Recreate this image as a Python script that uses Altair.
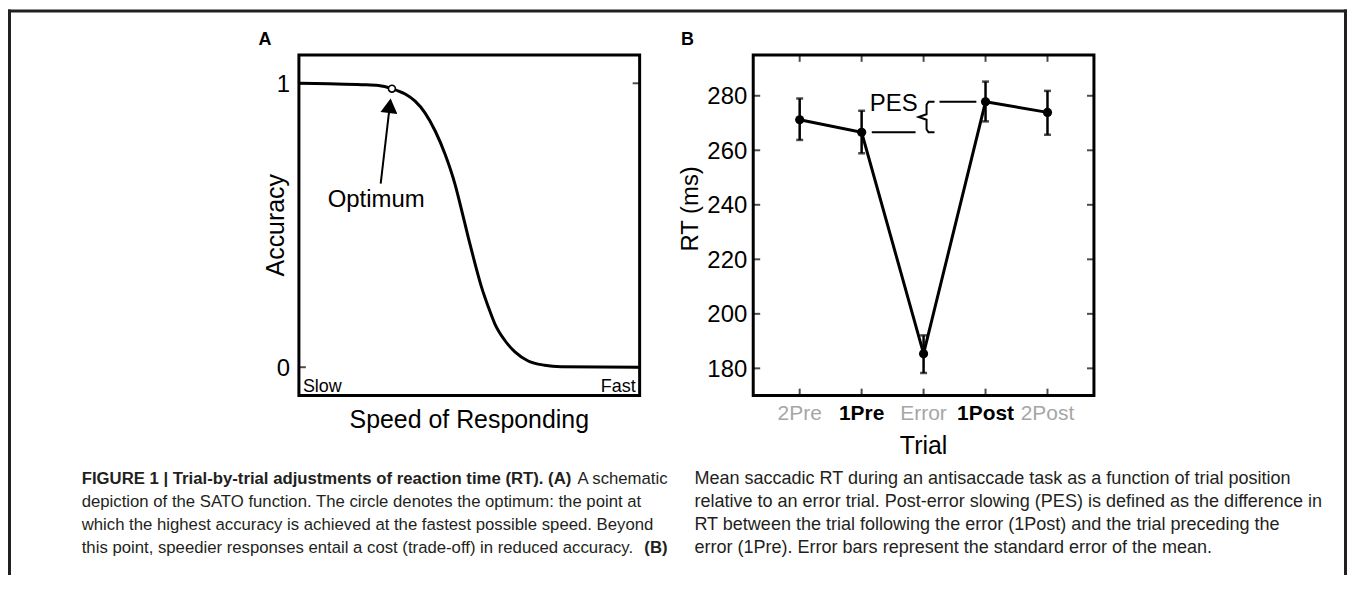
import altair as alt
import pandas as pd

# ---------------- data: panel A (schematic SATO curve) ----------------
speed = [0.000, 0.088, 0.185, 0.234, 0.273, 0.312, 0.341, 0.370, 0.400, 0.429, 0.458, 0.478,
         0.497, 0.517, 0.536, 0.556, 0.575, 0.604, 0.634, 0.673, 0.721, 0.770, 1.000]
accuracy = [1.000, 0.998, 0.995, 0.992, 0.981, 0.962, 0.937, 0.896, 0.832, 0.750, 0.645, 0.551,
            0.457, 0.364, 0.282, 0.212, 0.153, 0.095, 0.054, 0.022, 0.007, 0.002, 0.000]
optimum_speed = [0.273]
optimum_acc = [0.981]
acc_ticks = [0, 1]
acc_tick_labels = ["0", "1"]

# ---------------- data: panel B ----------------
trials = ["2Pre", "1Pre", "Error", "1Post", "2Post"]
trial_pos = [1, 2, 3, 4, 5]
trial_bold = [False, True, False, True, False]
rt_mean = [271.2, 266.6, 185.4, 277.8, 273.9]
rt_lo = [263.8, 258.9, 178.3, 270.6, 265.7]
rt_hi = [279.0, 274.5, 192.1, 285.2, 281.8]
rt_ticks = [180, 200, 220, 240, 260, 280]

# ---------------- caption text ----------------
cap_left_bold_1 = "FIGURE 1 | Trial-by-trial adjustments of reaction time (RT). (A)"
cap_left_tail_1 = "A schematic"
cap_left_lines = [
    "depiction of the SATO function. The circle denotes the optimum: the point at",
    "which the highest accuracy is achieved at the fastest possible speed. Beyond",
    "this point, speedier responses entail a cost (trade-off) in reduced accuracy.",
]
cap_left_tail_4 = "(B)"
cap_right_lines = [
    "Mean saccadic RT during an antisaccade task as a function of trial position",
    "relative to an error trial. Post-error slowing (PES) is defined as the difference in",
    "RT between the trial following the error (1Post) and the trial preceding the",
    "error (1Pre). Error bars represent the standard error of the mean.",
]

# ---------------- styling / layout ----------------
INK = "black"
FRAME = "#231f20"
GRAY = "#a6a6a6"
FONT = "Liberation Sans"
CAP_FONT = "Liberation Sans"
CAP_SIZE_L = 16.8
CAP_SIZE_R = 18.1
W, H = 1344, 568

XA_DOM, YA_DOM = [0, 1], [-0.1, 1.1]
XB_DOM, YB_DOM = [0.25, 5.75], [170, 295]
XA = alt.Scale(domain=XA_DOM, range=[292, 634], nice=False, zero=False)
YA = alt.Scale(domain=YA_DOM, range=[388, 46], nice=False, zero=False)
XB = alt.Scale(domain=XB_DOM, range=[748, 1090], nice=False, zero=False)
YB = alt.Scale(domain=YB_DOM, range=[388, 46], nice=False, zero=False)
CAP_Y = alt.Scale(domain=[1, 4], range=[472, 541], nice=False, zero=False)


def enc(xs, ys, xf="x", yf="y"):
    return dict(x=alt.X(f"{xf}:Q", scale=xs, axis=None),
                y=alt.Y(f"{yf}:Q", scale=ys, axis=None))


layers = []

# ================= Panel A =================
dA = pd.DataFrame({"x": speed, "y": accuracy})
layers.append(alt.Chart(dA).mark_line(color=INK, strokeWidth=3, interpolate="monotone")
              .encode(**enc(XA, YA)))

fA = pd.DataFrame({"x": [XA_DOM[0]], "x2": [XA_DOM[1]], "y": [YA_DOM[0]], "y2": [YA_DOM[1]]})
layers.append(alt.Chart(fA).mark_rect(fill="transparent", stroke=INK, strokeWidth=3)
              .encode(**enc(XA, YA), x2="x2:Q", y2="y2:Q"))

tA = pd.DataFrame({"y": acc_ticks, "xl": [XA_DOM[0]] * 2, "xr": [XA_DOM[1]] * 2})
layers.append(alt.Chart(tA).mark_tick(orient="horizontal", size=7, thickness=2, color=INK, xOffset=3.5)
              .encode(**enc(XA, YA, xf="xl")))
layers.append(alt.Chart(tA).mark_tick(orient="horizontal", size=7, thickness=2, color=INK, xOffset=-3.5)
              .encode(**enc(XA, YA, xf="xr")))

labA = pd.DataFrame({"x": [XA_DOM[0]] * 2, "y": acc_ticks, "t": acc_tick_labels})
layers.append(alt.Chart(labA).mark_text(font=FONT, fontSize=24, align="right", baseline="alphabetic",
                                        dx=-9, dy=8.5, color=INK)
              .encode(**enc(XA, YA), text="t:N"))

# arrow + "Optimum"
arrow_tail = (0.240, 0.647)
arrow_head = (0.2667, 0.921)
dArrow = pd.DataFrame({"x": [arrow_tail[0], arrow_head[0]], "y": [arrow_tail[1], arrow_head[1]]})
layers.append(alt.Chart(dArrow).mark_line(color=INK, strokeWidth=2).encode(**enc(XA, YA)))
layers.append(alt.Chart(pd.DataFrame({"x": [arrow_head[0]], "y": [arrow_head[1]]}))
              .mark_point(shape="triangle-up", filled=True, color=INK, size=290, angle=6.7, opacity=1)
              .encode(**enc(XA, YA)))

dOpt = pd.DataFrame({"x": optimum_speed, "y": optimum_acc})
layers.append(alt.Chart(dOpt).mark_point(shape="circle", filled=True, fill="white", stroke=INK,
                                         strokeWidth=1.6, size=48, opacity=1)
              .encode(**enc(XA, YA)))

txtA = pd.DataFrame({"x": [0.2266], "y": [0.563], "t": ["Optimum"]})
layers.append(alt.Chart(txtA).mark_text(font=FONT, fontSize=24, align="center", baseline="alphabetic", color=INK)
              .encode(**enc(XA, YA), text="t:N"))

# Slow / Fast
sf = pd.DataFrame({"x": [XA_DOM[0]], "y": [YA_DOM[0]], "t": ["Slow"]})
layers.append(alt.Chart(sf).mark_text(font=FONT, fontSize=18, align="left", baseline="alphabetic",
                                      dx=4, dy=-4, color=INK).encode(**enc(XA, YA), text="t:N"))
sf2 = pd.DataFrame({"x": [XA_DOM[1]], "y": [YA_DOM[0]], "t": ["Fast"]})
layers.append(alt.Chart(sf2).mark_text(font=FONT, fontSize=18, align="right", baseline="alphabetic",
                                       dx=-4, dy=-4, color=INK).encode(**enc(XA, YA), text="t:N"))

# axis titles A
layers.append(alt.Chart(pd.DataFrame({"x": [0.5], "y": [YA_DOM[0]], "t": ["Speed of Responding"]}))
              .mark_text(font=FONT, fontSize=25, align="center", baseline="alphabetic", dy=33, color=INK)
              .encode(**enc(XA, YA), text="t:N"))
layers.append(alt.Chart(pd.DataFrame({"x": [XA_DOM[0]], "y": [0.5], "t": ["Accuracy"]}))
              .mark_text(font=FONT, fontSize=25, align="center", baseline="middle", angle=270, dy=-23, color=INK)
              .encode(**enc(XA, YA), text="t:N"))
# panel letter A
layers.append(alt.Chart(pd.DataFrame({"x": [XA_DOM[0]], "y": [YA_DOM[1]], "t": ["A"]}))
              .mark_text(font=FONT, fontSize=18, fontWeight="bold", align="center", baseline="alphabetic",
                         dx=-34, dy=-10, color=INK)
              .encode(**enc(XA, YA), text="t:N"))

# ================= Panel B =================
dB = pd.DataFrame({"x": trial_pos, "y": rt_mean, "lo": rt_lo, "hi": rt_hi, "t": trials, "b": trial_bold})

# PES annotation (behind data)
pes_left = (2.164, 2.871)
pes_right = (3.257, 3.852)
layers.append(alt.Chart(pd.DataFrame({"x": [pes_left[0]], "x2": [pes_left[1]], "y": [rt_mean[1]]}))
              .mark_rule(color=INK, strokeWidth=2).encode(**enc(XB, YB), x2="x2:Q"))
layers.append(alt.Chart(pd.DataFrame({"x": [pes_right[0]], "x2": [pes_right[1]], "y": [rt_mean[3]]}))
              .mark_rule(color=INK, strokeWidth=2).encode(**enc(XB, YB), x2="x2:Q"))
top_, bot_ = rt_mean[3], rt_mean[1]
mid_ = (top_ + bot_) / 2
brace_x = [3.177, 3.080, 3.048, 3.048, 2.920, 3.048, 3.048, 3.080, 3.177]
brace_y = [top_, top_, top_ - 1.1, mid_ + 1.0, mid_, mid_ - 1.0, bot_ + 1.1, bot_, bot_]
layers.append(alt.Chart(pd.DataFrame({"x": brace_x, "y": brace_y, "o": list(range(len(brace_x)))}))
              .mark_line(color=INK, strokeWidth=2).encode(**enc(XB, YB), order="o:Q"))
layers.append(alt.Chart(pd.DataFrame({"x": [2.518], "y": [274.5], "t": ["PES"]}))
              .mark_text(font=FONT, fontSize=24, align="center", baseline="alphabetic", color=INK)
              .encode(**enc(XB, YB), text="t:N"))

# error bars
layers.append(alt.Chart(dB).mark_rule(color=INK, strokeWidth=2.5)
              .encode(**enc(XB, YB, yf="lo"), y2="hi:Q"))
layers.append(alt.Chart(dB).mark_tick(orient="horizontal", size=7, thickness=2.5, color=INK)
              .encode(**enc(XB, YB, yf="lo")))
layers.append(alt.Chart(dB).mark_tick(orient="horizontal", size=7, thickness=2.5, color=INK)
              .encode(**enc(XB, YB, yf="hi")))
# line + points
layers.append(alt.Chart(dB).mark_line(color=INK, strokeWidth=3).encode(**enc(XB, YB)))
layers.append(alt.Chart(dB).mark_circle(color=INK, size=85, opacity=1).encode(**enc(XB, YB)))

# frame
fB = pd.DataFrame({"x": [XB_DOM[0]], "x2": [XB_DOM[1]], "y": [YB_DOM[0]], "y2": [YB_DOM[1]]})
layers.append(alt.Chart(fB).mark_rect(fill="transparent", stroke=INK, strokeWidth=3)
              .encode(**enc(XB, YB), x2="x2:Q", y2="y2:Q"))

# inward ticks
tBx = pd.DataFrame({"x": trial_pos, "yb": [YB_DOM[0]] * 5, "yt": [YB_DOM[1]] * 5})
layers.append(alt.Chart(tBx).mark_tick(orient="vertical", size=7, thickness=2, color=INK, yOffset=-3.5)
              .encode(**enc(XB, YB, yf="yb")))
layers.append(alt.Chart(tBx).mark_tick(orient="vertical", size=7, thickness=2, color=INK, yOffset=3.5)
              .encode(**enc(XB, YB, yf="yt")))
tBy = pd.DataFrame({"y": rt_ticks, "xl": [XB_DOM[0]] * 6, "xr": [XB_DOM[1]] * 6,
                    "t": [str(v) for v in rt_ticks]})
layers.append(alt.Chart(tBy).mark_tick(orient="horizontal", size=7, thickness=2, color=INK, xOffset=3.5)
              .encode(**enc(XB, YB, xf="xl")))
layers.append(alt.Chart(tBy).mark_tick(orient="horizontal", size=7, thickness=2, color=INK, xOffset=-3.5)
              .encode(**enc(XB, YB, xf="xr")))

# tick labels
layers.append(alt.Chart(tBy).mark_text(font=FONT, fontSize=24, align="right", baseline="alphabetic",
                                       dx=-6, dy=8.5, color=INK)
              .encode(**enc(XB, YB, xf="xl"), text="t:N"))
dLab = pd.DataFrame({"x": trial_pos, "y": [YB_DOM[0]] * 5, "t": trials, "b": trial_bold})
layers.append(alt.Chart(dLab).transform_filter("!datum.b")
              .mark_text(font=FONT, fontSize=21, align="center", baseline="alphabetic", dy=24, color=GRAY)
              .encode(**enc(XB, YB), text="t:N"))
layers.append(alt.Chart(dLab).transform_filter("datum.b")
              .mark_text(font=FONT, fontSize=21, fontWeight="bold", align="center", baseline="alphabetic",
                         dy=24, color=INK)
              .encode(**enc(XB, YB), text="t:N"))

# axis titles B
layers.append(alt.Chart(pd.DataFrame({"x": [3], "y": [YB_DOM[0]], "t": ["Trial"]}))
              .mark_text(font=FONT, fontSize=25, align="center", baseline="alphabetic", dy=59, color=INK)
              .encode(**enc(XB, YB), text="t:N"))
layers.append(alt.Chart(pd.DataFrame({"x": [XB_DOM[0]], "y": [238.5], "t": ["RT (ms)"]}))
              .mark_text(font=FONT, fontSize=24, align="center", baseline="middle", angle=270, dy=-62, color=INK)
              .encode(**enc(XB, YB), text="t:N"))
layers.append(alt.Chart(pd.DataFrame({"x": [XB_DOM[0]], "y": [YB_DOM[1]], "t": ["B"]}))
              .mark_text(font=FONT, fontSize=18, fontWeight="bold", align="center", baseline="alphabetic",
                         dx=-66, dy=-10, color=INK)
              .encode(**enc(XB, YB), text="t:N"))

# ================= caption =================
capL = pd.DataFrame({"line": [2, 3, 4], "t": cap_left_lines})
layers.append(alt.Chart(capL).mark_text(font=CAP_FONT, fontSize=CAP_SIZE_L, align="left", baseline="middle", color=FRAME)
              .encode(x=alt.value(74), y=alt.Y("line:Q", scale=CAP_Y, axis=None), text="t:N"))
layers.append(alt.Chart(pd.DataFrame({"line": [1], "t": [cap_left_bold_1]}))
              .mark_text(font=CAP_FONT, fontSize=CAP_SIZE_L, fontWeight="bold", align="left", baseline="middle", color=FRAME)
              .encode(x=alt.value(74), y=alt.Y("line:Q", scale=CAP_Y, axis=None), text="t:N"))
layers.append(alt.Chart(pd.DataFrame({"line": [1], "t": [cap_left_tail_1]}))
              .mark_text(font=CAP_FONT, fontSize=CAP_SIZE_L, align="right", baseline="middle", color=FRAME)
              .encode(x=alt.value(662), y=alt.Y("line:Q", scale=CAP_Y, axis=None), text="t:N"))
layers.append(alt.Chart(pd.DataFrame({"line": [4], "t": [cap_left_tail_4]}))
              .mark_text(font=CAP_FONT, fontSize=CAP_SIZE_L, fontWeight="bold", align="right", baseline="middle", color=FRAME)
              .encode(x=alt.value(662), y=alt.Y("line:Q", scale=CAP_Y, axis=None), text="t:N"))
capR = pd.DataFrame({"line": [1, 2, 3, 4], "t": cap_right_lines})
layers.append(alt.Chart(capR).mark_text(font=CAP_FONT, fontSize=CAP_SIZE_R, align="left", baseline="middle", color=FRAME)
              .encode(x=alt.value(689), y=alt.Y("line:Q", scale=CAP_Y, axis=None), text="t:N"))

# ================= outer border (top, left, right) =================
layers.append(alt.Chart(pd.DataFrame({"a": [0]})).mark_rule(color=FRAME, strokeWidth=3)
              .encode(x=alt.value(0), x2=alt.value(W), y=alt.value(2)))
layers.append(alt.Chart(pd.DataFrame({"a": [0]})).mark_rule(color=FRAME, strokeWidth=3)
              .encode(x=alt.value(1.5), y=alt.value(0.5), y2=alt.value(H)))
layers.append(alt.Chart(pd.DataFrame({"a": [0]})).mark_rule(color=FRAME, strokeWidth=3)
              .encode(x=alt.value(W - 1.5), y=alt.value(0.5), y2=alt.value(H)))

chart = (alt.layer(*layers)
         .resolve_scale(x="independent", y="independent")
         .properties(width=W, height=H, padding=0, background="white",
                     autosize=alt.AutoSizeParams(type="none"))
         .configure_view(strokeWidth=0))

chart.save("out.html", embed_options={"renderer": "svg", "actions": False})
